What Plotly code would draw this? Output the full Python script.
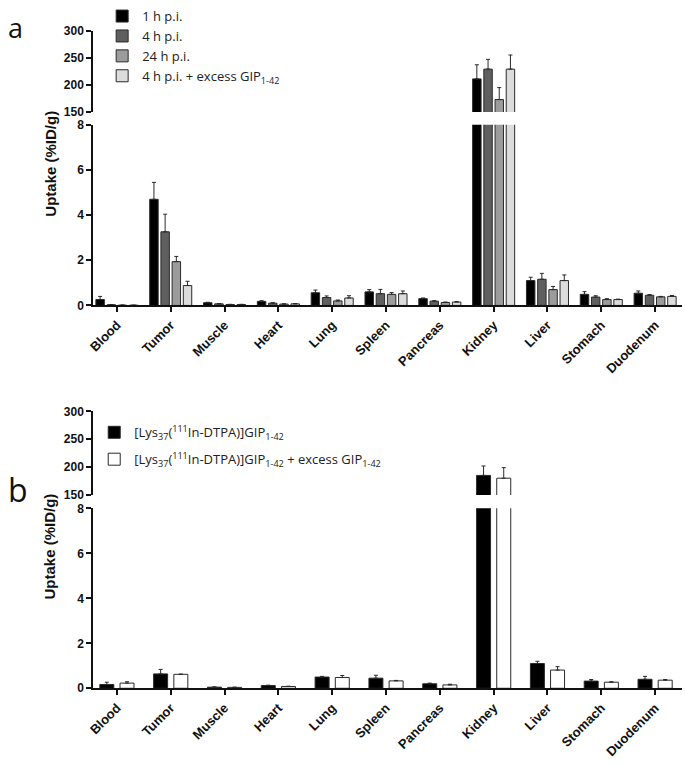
import plotly.graph_objects as go

# ---------------- data ----------------
organs = ["Blood", "Tumor", "Muscle", "Heart", "Lung", "Spleen", "Pancreas",
          "Kidney", "Liver", "Stomach", "Duodenum"]

# Panel a (mean, SD)
a_names = ["1 h p.i.", "4 h p.i.", "24 h p.i.", "4 h p.i. + excess GIP<sub>1-42</sub>"]
a_1h = [0.26, 4.70, 0.12, 0.18, 0.56, 0.60, 0.30, 211, 1.10, 0.49, 0.54]
a_1h_sd = [0.14, 0.75, 0.02, 0.03, 0.12, 0.10, 0.03, 26, 0.15, 0.12, 0.10]
a_4h = [0.03, 3.26, 0.07, 0.10, 0.35, 0.52, 0.19, 229, 1.16, 0.37, 0.45]
a_4h_sd = [0.01, 0.78, 0.01, 0.02, 0.07, 0.19, 0.02, 18, 0.26, 0.06, 0.03]
a_24h = [0.01, 1.94, 0.04, 0.06, 0.20, 0.49, 0.13, 173, 0.70, 0.26, 0.38]
a_24h_sd = [0.01, 0.23, 0.01, 0.01, 0.04, 0.08, 0.02, 22, 0.14, 0.04, 0.02]
a_ex = [0.01, 0.88, 0.04, 0.07, 0.33, 0.52, 0.15, 229, 1.10, 0.26, 0.40]
a_ex_sd = [0.00, 0.19, 0.01, 0.01, 0.10, 0.12, 0.02, 26, 0.25, 0.02, 0.04]

# Panel b (mean, SD)
b_names = ["[Lys<sub>37</sub>(<sup>111</sup>In-DTPA)]GIP<sub>1-42</sub>",
           "[Lys<sub>37</sub>(<sup>111</sup>In-DTPA)]GIP<sub>1-42</sub> + excess GIP<sub>1-42</sub>"]
b_ctrl = [0.17, 0.64, 0.05, 0.12, 0.50, 0.45, 0.20, 185, 1.10, 0.32, 0.40]
b_ctrl_sd = [0.10, 0.20, 0.01, 0.02, 0.03, 0.13, 0.03, 17, 0.10, 0.07, 0.13]
b_ex = [0.23, 0.62, 0.04, 0.08, 0.48, 0.33, 0.15, 180, 0.81, 0.27, 0.36]
b_ex_sd = [0.06, 0.01, 0.01, 0.01, 0.09, 0.02, 0.03, 19, 0.15, 0.02, 0.03]

# ---------------- styling ----------------
W, H = 685, 764
FONT = "Arial, Liberation Sans, sans-serif"
LFONT = "Open Sans, sans-serif"

a_series = [(a_names[0], a_1h, a_1h_sd, "#000000"),
            (a_names[1], a_4h, a_4h_sd, "#5f5f5f"),
            (a_names[2], a_24h, a_24h_sd, "#9c9c9c"),
            (a_names[3], a_ex, a_ex_sd, "#dcdcdc")]
b_series = [(b_names[0], b_ctrl, b_ctrl_sd, "#000000"),
            (b_names[1], b_ex, b_ex_sd, "#ffffff")]

fig = go.Figure()

def add_panel(series, pitch, width, xl, xu, yl, yu, legend):
    n = len(series)
    for i, (name, vals, sd, col) in enumerate(series):
        center = (i - (n - 1) / 2) * pitch
        for (xa, ya, show) in [(xl, yl, True), (xu, yu, False)]:
            fig.add_trace(go.Bar(
                x=organs, y=vals, name=name, xaxis=xa, yaxis=ya,
                width=width, offset=center - width / 2,
                marker=dict(color=col, line=dict(color="#2a2a2a", width=1)),
                error_y=dict(type="data", symmetric=False, array=sd,
                             arrayminus=[0] * len(sd), color="#2a2a2a",
                             thickness=1, width=2),
                showlegend=show, legend=legend, legendgroup=name + legend,
            ))

add_panel(a_series, 0.208, 0.157, "x", "x2", "y", "y2", "legend")
add_panel(b_series, 0.375, 0.26, "x3", "x4", "y3", "y4", "legend2")

def py(px):
    return 1 - px / H

xdom = [88 / W, 682 / W]
xrange = [-0.44, 10.5]
xtickfont = dict(family=FONT, size=13, color="#111", weight="bold")
ytickfont = dict(family=FONT, size=12, color="#111", weight="bold")

def xaxis_lower():
    return dict(domain=xdom, range=xrange, type="category", showline=True,
                linecolor="#111", linewidth=2, ticks="outside", ticklen=5,
                tickwidth=2, tickcolor="#111", tickangle=-45, tickfont=xtickfont,
                showgrid=False, zeroline=False)

def xaxis_upper(anchor, match):
    return dict(domain=xdom, range=xrange, type="category", matches=match,
                showline=False, showticklabels=False, ticks="", showgrid=False,
                zeroline=False, anchor=anchor)

def yaxis(dom, rng, dtick, anchor):
    return dict(domain=dom, range=rng, dtick=dtick, showline=True,
                linecolor="#111", linewidth=2, ticks="outside", ticklen=5,
                tickwidth=2, tickcolor="#111", tickfont=ytickfont,
                showgrid=False, zeroline=False, anchor=anchor)

fig.update_layout(
    width=W, height=H, autosize=False,
    margin=dict(l=0, r=0, t=0, b=0),
    paper_bgcolor="white", plot_bgcolor="white",
    barmode="overlay",
    xaxis=dict(xaxis_lower(), anchor="y"),
    xaxis2=xaxis_upper("y2", "x"),
    xaxis3=dict(xaxis_lower(), anchor="y3"),
    xaxis4=xaxis_upper("y4", "x3"),
    yaxis=yaxis([py(304), py(120)], [0, 8], 2, "x"),
    yaxis2=yaxis([py(107), py(24)], [150, 300], 50, "x2"),
    yaxis3=yaxis([py(694), py(510.7)], [0, 8], 2, "x3"),
    yaxis4=yaxis([py(497), py(412)], [150, 300], 50, "x4"),
    legend=dict(x=97 / W, y=py(-6), xanchor="left", yanchor="top",
                bgcolor="rgba(0,0,0,0)", font=dict(family=LFONT, size=13, color="#222"),
                traceorder="normal"),
    legend2=dict(x=89 / W, y=py(418), xanchor="left", yanchor="top",
                 bgcolor="rgba(0,0,0,0)", font=dict(family=LFONT, size=13, color="#222"),
                 tracegroupgap=7, traceorder="grouped"),
    annotations=[
        dict(text="a", x=0, y=1, xref="paper", yref="paper", xanchor="left",
             yanchor="top", showarrow=False, font=dict(family=LFONT, size=27, color="#111")),
        dict(text="b", x=0, y=py(492), xref="paper", yref="paper", xanchor="left",
             yanchor="middle", showarrow=False, font=dict(family=LFONT, size=32, color="#111")),
        dict(text="Uptake (%ID/g)", x=44 / W, y=py(160), xref="paper", yref="paper",
             xanchor="center", yanchor="middle", textangle=-90, showarrow=False,
             font=dict(family=FONT, size=15, color="#111", weight="bold")),
        dict(text="Uptake (%ID/g)", x=44 / W, y=py(550), xref="paper", yref="paper",
             xanchor="center", yanchor="middle", textangle=-90, showarrow=False,
             font=dict(family=FONT, size=15, color="#111", weight="bold")),
    ],
)

fig.write_html("out.html", config={"displayModeBar": False},
               post_script="document.body.style.margin='0';document.body.style.overflow='hidden';")
